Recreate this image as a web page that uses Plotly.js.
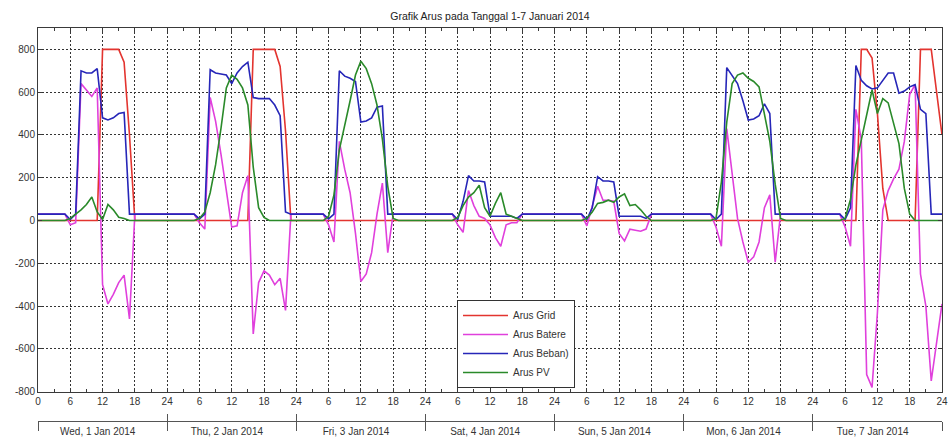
<!DOCTYPE html>
<html>
<head>
<meta charset="utf-8">
<script src="https://cdn.plot.ly/plotly-3.0.1.min.js"></script>
<style>html,body{margin:0;padding:0;background:#fff}#chart{width:949px;height:441px}</style>
</head>
<body>
<div id="chart"></div>
<script>
// ---- data (hourly samples, 1-7 Jan 2014; index = hour since Wed 00:00) ----
const titleText = 'Grafik Arus pada Tanggal 1-7 Januari 2014';
const seriesNames = ['Arus Grid', 'Arus Batere', 'Arus Beban)', 'Arus PV'];
const dayLabels = ['Wed, 1 Jan 2014', 'Thu, 2 Jan 2014', 'Fri, 3 Jan 2014', 'Sat, 4 Jan 2014',
                   'Sun, 5 Jan 2014', 'Mon, 6 Jan 2014', 'Tue, 7 Jan 2014'];

const arusGrid = [
  0,0,0,0,0,0, 0,0,0,0,0,0, 800,800,800,800,740,400, 0,0,0,0,0,0,
  0,0,0,0,0,0, 0,0,0,0,0,0, 0,0,0,0,800,800, 800,800,800,720,420,0,
  0,0,0,0,0,0, 0,0,0,0,0,0, 0,0,0,0,0,0, 0,0,0,0,0,0,
  0,0,0,0,0,0, 0,0,0,0,0,0, 0,0,0,0,0,0, 0,0,0,0,0,0,
  0,0,0,0,0,0, 0,0,0,0,0,0, 0,0,0,0,0,0, 0,0,0,0,0,0,
  0,0,0,0,0,0, 0,0,0,0,0,0, 0,0,0,0,0,0, 0,0,0,0,0,0,
  0,0,0,0,0,0, 0,0,0,800,800,760, 500,150,0,0,0,0, 0,0,800,800,800,600,
  400
];
const arusBatere = [
  30,30,30,30,30,30, -20,-10,640,610,580,620, -300,-390,-345,-290,-255,-460, 30,30,30,30,30,30,
  30,30,30,30,30,30, -10,-40,575,465,310,150, -30,-25,130,210,-530,-290, -235,-255,-300,-270,-420,30,
  30,30,30,30,30,30, -20,-100,370,240,130,-60, -285,-250,-150,30,175,-150, 30,30,30,30,30,30,
  30,30,30,30,30,30, -20,-55,140,70,20,10, -20,-80,-120,-20,-10,-10, 30,30,30,30,30,30,
  30,30,30,30,30,30, -25,70,160,95,95,90, -60,-95,-40,-45,-50,-40, 30,30,30,30,30,30,
  30,30,30,30,30,30, -30,-120,430,220,10,-100, -195,-170,-100,60,120,-195, 30,30,30,30,30,30,
  30,30,30,30,30,30, -30,-120,520,380,-720,-780, -430,50,140,195,240,370, 590,635,-250,-400,-750,-560,
  -390
];
const arusBeban = [
  30,30,30,30,30,30, 5,30,700,690,690,710, 480,470,480,500,505,30, 30,30,30,30,30,30,
  30,30,30,30,30,30, 8,30,705,690,685,680, 640,690,720,740,575,570, 570,570,540,490,40,30,
  30,30,30,30,30,30, 8,30,700,675,665,650, 460,465,480,530,535,30, 30,30,30,30,30,30,
  30,30,30,30,30,30, 5,90,210,185,185,180, 20,20,20,20,20,10, 30,30,30,30,30,30,
  30,30,30,30,30,30, 5,60,205,185,185,180, 20,20,20,20,20,10, 30,30,30,30,30,30,
  30,30,30,30,30,30, 5,30,715,680,640,560, 470,475,490,545,500,30, 30,30,30,30,30,30,
  30,30,30,30,30,30, 5,60,725,655,630,615, 620,655,690,690,595,605, 625,635,520,500,30,30,
  30
];
const arusPV = [
  0,0,0,0,0,0, 10,30,50,75,110,40, 5,75,50,15,10,0, 0,0,0,0,0,0,
  0,0,0,0,0,0, 10,40,130,260,430,620, 680,660,620,540,250,60, 15,0,0,0,0,0,
  0,0,0,0,0,0, 20,120,330,440,560,680, 745,710,640,540,380,160, 10,0,0,0,0,0,
  0,0,0,0,0,0, 15,70,110,130,165,60, 20,80,130,30,20,10, 0,0,0,0,0,0,
  0,0,0,0,0,0, 10,40,80,85,95,85, 110,125,70,75,50,20, 0,0,0,0,0,0,
  0,0,0,0,0,0, 10,180,460,640,680,690, 665,650,625,500,370,170, 10,0,0,0,0,0,
  0,0,0,0,0,0, 10,100,260,380,500,610, 500,570,550,460,360,150, 30,0,0,0,0,0,
  0
];
const seriesColors = ['#e3342f', '#e040dc', '#2626b8', '#2a8a2a'];

// ---- derived ----
const hours = arusGrid.map((_, i) => i);
const nHours = hours.length - 1;               // 168
const majorVals = [], majorText = [], minorVals = [];
for (let h = 0; h <= nHours; h += 6) {
  majorVals.push(h);
  majorText.push(h === 0 ? '0' : (h % 24 === 0 ? '24' : String(h % 24)));
}
for (let h = 0; h <= nHours; h += 3) minorVals.push(h);
const dayBounds = [], dayCenters = [];
for (let d = 0; d <= dayLabels.length; d++) dayBounds.push(d * 24);
for (let d = 0; d < dayLabels.length; d++) dayCenters.push(d * 24 + 11.1);
const yVals = [], yText = [];
for (let v = -800; v <= 800; v += 200) { yVals.push(v); yText.push(String(v)); }

const allSeries = [arusGrid, arusBatere, arusBeban, arusPV];
const traces = allSeries.map((ys, i) => ({
  type: 'scatter', mode: 'lines', x: hours, y: ys, name: seriesNames[i],
  line: {color: seriesColors[i], width: 1.6}, xaxis: 'x', yaxis: 'y'
}));
['x2', 'x3', 'x4'].forEach(ax => traces.push({
  type: 'scatter', mode: 'lines', x: [], y: [], xaxis: ax, yaxis: 'y',
  showlegend: false, hoverinfo: 'skip'
}));

const axisCol = '#3a3a3a';
const layout = {
  width: 949, height: 441,
  margin: {l: 38, r: 7, t: 28, b: 5},
  paper_bgcolor: '#fff', plot_bgcolor: '#fff',
  font: {family: 'Liberation Sans, Arial, sans-serif', size: 10, color: '#333'},
  title: {text: titleText, x: 0.5, xref: 'paper', xanchor: 'center',
          y: 0.964, yref: 'container', yanchor: 'middle',
          font: {family: 'Liberation Sans, Arial, sans-serif', size: 10.5, color: '#222'}},
  showlegend: true,
  legend: {x: 0.4635, y: 0.3333, xref: 'paper', yref: 'paper', xanchor: 'left', yanchor: 'top',
           bgcolor: '#fff', bordercolor: '#333', borderwidth: 1,
           font: {size: 10, color: '#333'}, itemwidth: 45, tracegroupgap: 0},
  xaxis: {range: [0, nHours], anchor: 'y', tickmode: 'array', tickvals: majorVals, ticktext: majorText,
          ticks: 'inside', ticklen: 4, tickcolor: axisCol, showline: true, linecolor: axisCol, linewidth: 1,
          mirror: 'ticks', showgrid: true, gridcolor: '#333', griddash: '2px,2px', gridwidth: 1,
          zeroline: false, tickfont: {size: 10, color: '#333'},
          minor: {tickmode: 'array', tickvals: minorVals, ticks: 'inside', ticklen: 3,
                  tickcolor: axisCol, showgrid: false},
          fixedrange: true},
  yaxis: {range: [-800, 900], domain: [0.1086, 1], anchor: 'x', tickmode: 'array',
          tickvals: yVals, ticktext: yText, ticks: 'inside', ticklen: 4, tickcolor: axisCol,
          showline: true, linecolor: axisCol, linewidth: 1, mirror: 'ticks',
          showgrid: true, gridcolor: '#333', griddash: '2px,2px', gridwidth: 1,
          zeroline: false, tickfont: {size: 10, color: '#333'}, fixedrange: true},
  xaxis2: {overlaying: 'x', anchor: 'free', position: 0.0375, range: [0, nHours],
           tickmode: 'array', tickvals: dayBounds, ticks: 'inside', ticklen: 7, tickcolor: '#555',
           showline: true, linecolor: '#555', linewidth: 1, showgrid: false, zeroline: false,
           showticklabels: false, fixedrange: true},
  xaxis3: {overlaying: 'x', anchor: 'free', position: 0.0375, range: [0, nHours],
           tickmode: 'array', tickvals: dayBounds, ticks: 'outside', ticklen: 9, tickcolor: '#555',
           showline: false, showgrid: false, zeroline: false, showticklabels: false, fixedrange: true},
  xaxis4: {overlaying: 'x', anchor: 'free', position: 0.0375, range: [0, nHours],
           tickmode: 'array', tickvals: dayCenters, ticktext: dayLabels, ticks: '',
           showline: false, showgrid: false, zeroline: false, ticklabelstandoff: 3,
           tickfont: {size: 10, color: '#333'}, fixedrange: true}
};

Plotly.newPlot('chart', traces, layout, {staticPlot: true, displayModeBar: false});
</script>
</body>
</html>
